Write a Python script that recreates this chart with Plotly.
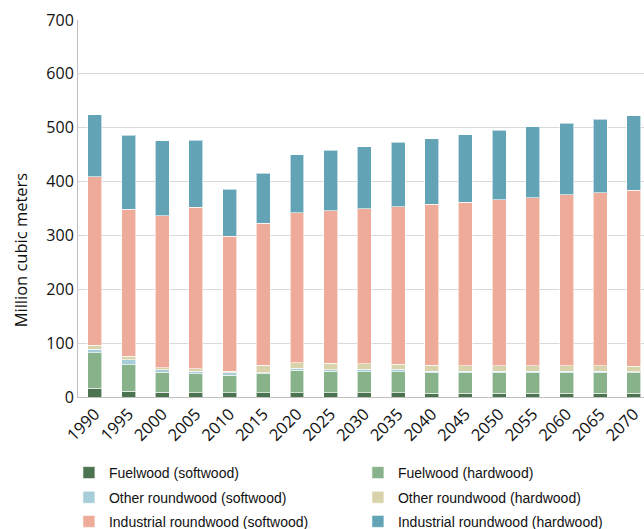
import plotly.graph_objects as go

years = ["1990", "1995", "2000", "2005", "2010", "2015", "2020", "2025", "2030",
         "2035", "2040", "2045", "2050", "2055", "2060", "2065", "2070"]

fuel_soft = [16, 11, 9, 8, 7.5, 8, 8, 8, 7.5, 7.5, 7, 7, 7, 7, 7, 7, 7]
fuel_hard = [66, 49, 37, 35, 32.5, 35, 41.6, 39.7, 39, 39, 37.6, 37.6, 37.6, 37.6, 37.6, 37.6, 37.6]
other_soft = [7, 9, 5, 5, 4.6, 2, 3.4, 3.3, 4.6, 4.6, 3, 3, 3, 2.8, 2.8, 2.8, 2.5]
other_hard = [7, 7, 3, 4.7, 3, 14, 11, 12, 11, 9.7, 11.3, 10.7, 10.8, 11, 11, 10.6, 10]
ind_soft = [313, 273, 283, 300, 251, 264, 278, 283, 287, 292, 299, 303, 308, 312, 317, 321, 327]
ind_hard = [115, 137, 139, 124, 87, 92, 108, 112, 116, 120, 122, 126, 129, 131, 132.5, 136.5, 138]
y_title = "Million cubic meters"

series = [
    ("Fuelwood (softwood)", fuel_soft, "#4b7350", "legend"),
    ("Fuelwood (hardwood)", fuel_hard, "#88b38a", "legend"),
    ("Other roundwood (softwood)", other_soft, "#a6cdd8", "legend2"),
    ("Other roundwood (hardwood)", other_hard, "#d9d3ab", "legend2"),
    ("Industrial roundwood (softwood)", ind_soft, "#eeab99", "legend3"),
    ("Industrial roundwood (hardwood)", ind_hard, "#62a3b5", "legend3"),
]

fig = go.Figure()
for name, vals, color, lg in series:
    fig.add_trace(go.Bar(
        x=years, y=vals, name=name, legend=lg,
        marker=dict(color=color, line=dict(color="rgba(255,255,255,0.6)", width=1)),
    ))

text_color = "#111111"
axis_font = "Open Sans, Noto Sans, sans-serif"
legend_font = "Liberation Sans, Arial, sans-serif"
legend_common = dict(
    orientation="h", xanchor="left", yanchor="middle",
    x=-0.016, entrywidth=244, entrywidthmode="pixels",
    font=dict(family=legend_font, size=14, color=text_color),
    bgcolor="rgba(0,0,0,0)", itemwidth=30, traceorder="normal",
)

fig.update_layout(
    width=644, height=529,
    margin=dict(l=78, r=0, t=20, b=132, autoexpand=False),
    barmode="stack",
    bargap=0.585,
    plot_bgcolor="white",
    paper_bgcolor="white",
    font=dict(family=axis_font, size=16, color=text_color),
    legend=dict(legend_common, y=-0.2016),
    legend2=dict(legend_common, y=-0.267),
    legend3=dict(legend_common, y=-0.331),
    xaxis=dict(
        type="category", range=[-0.5, 16.3], tickangle=-45,
        showline=True, linecolor="#bfbfbf", linewidth=1,
        ticks="", tickfont=dict(size=16.5, family=axis_font, color=text_color),
        showgrid=False, automargin=False,
    ),
    yaxis=dict(
        range=[0, 700], dtick=100, tick0=0,
        showgrid=True, gridcolor="#d9d9d9", gridwidth=1,
        showline=True, linecolor="#bfbfbf", linewidth=1,
        ticks="", tickfont=dict(size=16, family=axis_font, color=text_color),
        zeroline=False, automargin=False,
    ),
    annotations=[dict(
        text=y_title, textangle=-90, showarrow=False,
        xref="paper", yref="paper", x=-0.1, y=0.39,
        xanchor="center", yanchor="middle",
        font=dict(size=16.5, family=axis_font, color=text_color),
    )],
)

fig.write_html("out.html", config={"displayModeBar": False},
               post_script="document.body.style.margin='0px';")
